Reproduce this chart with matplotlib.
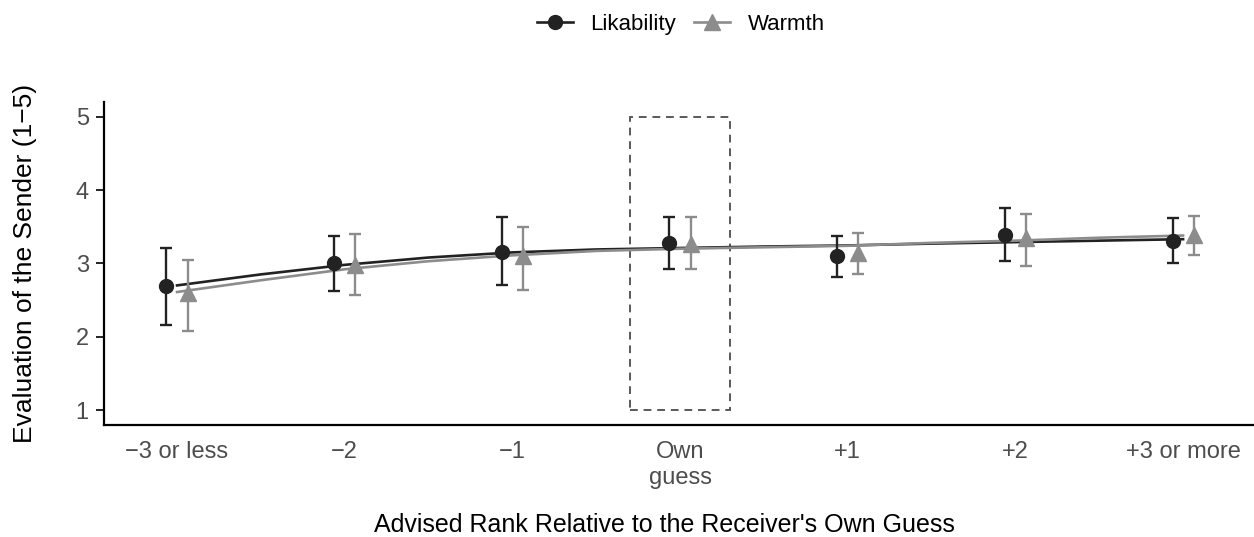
import numpy as np
import matplotlib
matplotlib.use("Agg")
import matplotlib.pyplot as plt
from matplotlib.patches import Rectangle
from matplotlib.lines import Line2D

plt.rcParams['font.family'] = ['Liberation Sans', 'DejaVu Sans']

# categories on the x axis
categories = ['\u22123 or less', '\u22122', '\u22121', 'Own\nguess', '+1', '+2', '+3 or more']

# means and error bar limits
lik_mean = [2.69, 3.00, 3.16, 3.28, 3.10, 3.39, 3.31]
lik_low = [2.16, 2.62, 2.71, 2.93, 2.82, 3.03, 3.01]
lik_high = [3.21, 3.38, 3.63, 3.63, 3.38, 3.75, 3.62]

warm_mean = [2.59, 2.98, 3.10, 3.27, 3.14, 3.35, 3.39]
warm_low = [2.08, 2.57, 2.64, 2.92, 2.86, 2.96, 3.12]
warm_high = [3.05, 3.40, 3.50, 3.63, 3.41, 3.68, 3.65]

# fitted curves, read at half steps from the first to the last category
curve_x = [1, 1.5, 2, 2.5, 3, 3.5, 4, 4.5, 5, 5.5, 6, 6.5, 7]
lik_curve = [2.70, 2.85, 2.98, 3.08, 3.15, 3.19, 3.21, 3.23, 3.245, 3.27, 3.29, 3.31, 3.33]
warm_curve = [2.61, 2.77, 2.92, 3.03, 3.11, 3.17, 3.20, 3.22, 3.24, 3.28, 3.31, 3.35, 3.38]

dark = '#222222'
grey = '#8c8c8c'

fig = plt.figure(figsize=(12.54, 5.37), dpi=100)
ax = fig.add_axes([0.083, 0.209, 0.917, 0.601])

x = np.arange(1, len(categories) + 1)
dodge = 0.063

ax.plot(curve_x, lik_curve, color=dark, lw=1.9, zorder=2)
ax.plot(curve_x, warm_curve, color=grey, lw=1.9, zorder=2)

for mean, low, high, col, mk, off in [(lik_mean, lik_low, lik_high, dark, 'o', -dodge),
                                      (warm_mean, warm_low, warm_high, grey, '^', dodge)]:
    m = np.array(mean)
    err = [m - np.array(low), np.array(high) - m]
    ax.errorbar(x + off, m, yerr=err, fmt='none', ecolor=col, elinewidth=1.7,
                capsize=4.5, capthick=1.7, zorder=3)
    ax.plot(x + off, m, mk, color=col, markersize=10 if mk == 'o' else 11,
            linestyle='none', zorder=4)

# dashed box around the own-guess category
ax.add_patch(Rectangle((4 - 0.3, 1), 0.6, 4, fill=False, edgecolor='#595959',
                       lw=1.4, linestyle=(0, (4, 3)), zorder=1))

ax.set_xlim(0.565, 7.423)
ax.set_ylim(0.8, 5.2)
ax.set_xticks(x)
ax.set_xticklabels(categories)
ax.set_yticks([1, 2, 3, 4, 5])
ax.tick_params(axis='x', length=0, pad=12, labelsize=17, labelcolor='#4d4d4d')
ax.tick_params(axis='y', length=6, width=1.2, pad=5, labelsize=17, labelcolor='#4d4d4d')
for s in ['top', 'right']:
    ax.spines[s].set_visible(False)
for s in ['left', 'bottom']:
    ax.spines[s].set_linewidth(1.6)

ax.set_xlabel("Advised Rank Relative to the Receiver's Own Guess", fontsize=18, va='center')
ax.xaxis.set_label_coords(0.487, -0.31)
ax.set_ylabel('Evaluation of the Sender (1\u22125)', fontsize=19, va='center')
ax.yaxis.set_label_coords(-0.069, 0.5)

handles = [Line2D([], [], color=dark, lw=1.9, marker='o', markersize=10),
           Line2D([], [], color=grey, lw=1.9, marker='^', markersize=11)]
fig.legend(handles, ['Likability', 'Warmth'], loc='center', bbox_to_anchor=(0.543, 0.955),
           ncol=2, frameon=False, fontsize=16, handlelength=1.6, columnspacing=0.8,
           handletextpad=0.8)

fig.savefig('out.png', dpi=100)
